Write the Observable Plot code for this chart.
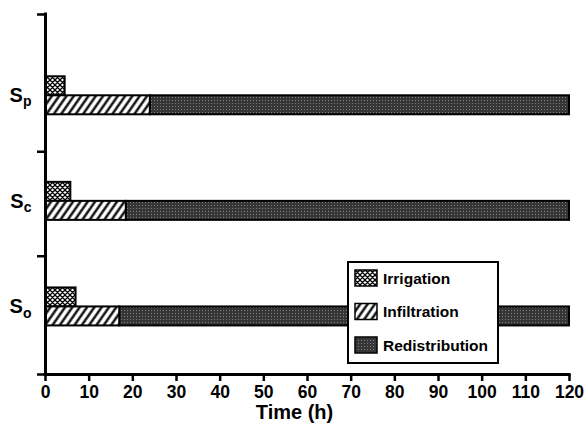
<!DOCTYPE html>
<html>
<head>
<meta charset="utf-8">
<script src="https://cdn.jsdelivr.net/npm/d3@7"></script>
<script src="https://cdn.jsdelivr.net/npm/@observablehq/plot@0.6"></script>
<style>
  html, body { margin: 0; padding: 0; background: #fff; }
  svg { font-family: "Liberation Sans", Arial, sans-serif; font-weight: bold; overflow: visible; }
</style>
</head>
<body>
<div id="chart"></div>
<script>
// ---- data ----
const categories = ["So", "Sc", "Sp"];          // bottom to top
const irrigation = [7, 5.8, 4.5];               // hours
const infiltration = [17, 18.5, 24];            // hours (end of infiltration)
const redistributionEnd = [120, 120, 120];      // hours
const series = ["Irrigation", "Infiltration", "Redistribution"];
const xTicks = [0, 10, 20, 30, 40, 50, 60, 70, 80, 90, 100, 110, 120];

// ---- layout helpers ----
const half = 0.18;                    // bar thickness in category units
const yDomain = [-0.64, 2.77];
const yBoundaries = [yDomain[0], 0.48, 1.47, yDomain[1]];
const idx = categories.map((_, i) => i);

const rows = categories.map((c, i) => ({
  cat: c, i,
  irr: irrigation[i],
  inf: infiltration[i],
  red: redistributionEnd[i]
}));

const fills = {
  Irrigation: "url(#pIrr)",
  Infiltration: "url(#pInf)",
  Redistribution: "url(#pRed)"
};

const plot = Plot.plot({
  width: 585,
  height: 429,
  marginLeft: 45,
  marginRight: 16,
  marginTop: 14,
  marginBottom: 55,
  style: {fontFamily: "Liberation Sans, Arial, sans-serif", fontWeight: "bold", color: "#000", background: "#fff", overflow: "visible"},
  x: {domain: [0, 120]},
  y: {domain: yDomain},
  marks: [
    Plot.rect(rows, {x1: 0, x2: "irr", y1: d => d.i, y2: d => d.i + half, fill: fills.Irrigation, stroke: "#000", strokeWidth: 2}),
    Plot.rect(rows, {x1: "inf", x2: "red", y1: d => d.i - half, y2: d => d.i, fill: fills.Redistribution, stroke: "#000", strokeWidth: 2}),
    Plot.rect(rows, {x1: 0, x2: "inf", y1: d => d.i - half, y2: d => d.i, fill: fills.Infiltration, stroke: "#000", strokeWidth: 2}),
    Plot.ruleX([0], {stroke: "#000", strokeWidth: 3, strokeLinecap: "square"}),
    Plot.ruleY([yDomain[0]], {stroke: "#000", strokeWidth: 3, strokeLinecap: "square"}),
    Plot.axisX({ticks: xTicks, tickSize: 7, tickPadding: 4, strokeWidth: 2.5, fontSize: 17.5, fontWeight: "bold", label: null}),
    Plot.axisY({ticks: yBoundaries, tickSize: 8, strokeWidth: 2.5, tickFormat: () => "", label: null}),
    Plot.axisY({ticks: idx, tickSize: 0, tickPadding: 14, fontSize: 20, fontWeight: "bold", tickFormat: i => categories[i], label: null}),
    Plot.text(["Time (h)"], {frameAnchor: "bottom", dy: 44, dx: -13, fontSize: 20, fontWeight: "bold", fill: "#000"})
  ]
});

const svg = d3.select(plot);

// patterns
const defs = svg.insert("defs", ":first-child");
const pIrr = defs.append("pattern").attr("id", "pIrr").attr("patternUnits", "userSpaceOnUse").attr("width", 5).attr("height", 5);
pIrr.append("rect").attr("width", 5).attr("height", 5).attr("fill", "#fff");
pIrr.append("path").attr("d", "M0,0L5,5M5,0L0,5M-1,4L1,6M4,-1L6,1M-1,1L1,-1M4,6L6,4").attr("stroke", "#000").attr("stroke-width", 1.3);

const pInf = defs.append("pattern").attr("id", "pInf").attr("patternUnits", "userSpaceOnUse").attr("width", 6).attr("height", 6).attr("patternTransform", "rotate(35)");
pInf.append("rect").attr("width", 6).attr("height", 6).attr("fill", "#fff");
pInf.append("line").attr("x1", 1.5).attr("x2", 1.5).attr("y1", 0).attr("y2", 6).attr("stroke", "#000").attr("stroke-width", 2.3);

const pRed = defs.append("pattern").attr("id", "pRed").attr("patternUnits", "userSpaceOnUse").attr("width", 3).attr("height", 3);
pRed.append("rect").attr("width", 3).attr("height", 3).attr("fill", "#363636");
pRed.append("rect").attr("x", 1).attr("y", 1).attr("width", 1).attr("height", 1).attr("fill", "#808080");

// subscripts on y labels
svg.selectAll('g[aria-label="y-axis tick label"] text').each(function() {
  const t = d3.select(this);
  const s = t.text();
  if (!s) return;
  t.text("");
  t.append("tspan").text(s[0]);
  t.append("tspan").attr("font-size", 14).attr("dy", "0.3em").text(s.slice(1));
});

// legend
const lg = svg.append("g").attr("class", "legend").attr("text-anchor", "start");
lg.append("rect").attr("x", 348).attr("y", 262).attr("width", 150).attr("height", 101)
  .attr("fill", "#fff").attr("stroke", "#000").attr("stroke-width", 2);
series.forEach((name, k) => {
  const y = 270 + k * 33.5;
  lg.append("rect").attr("x", 355).attr("y", y).attr("width", 22).attr("height", 16)
    .attr("fill", fills[name]).attr("stroke", "#000").attr("stroke-width", 1.5);
  lg.append("text").attr("x", 383).attr("y", y + 13.5).attr("font-size", 15.5)
    .attr("font-weight", "bold").attr("fill", "#000").attr("text-anchor", "start").text(name);
});

document.getElementById("chart").appendChild(plot);
</script>
</body>
</html>
